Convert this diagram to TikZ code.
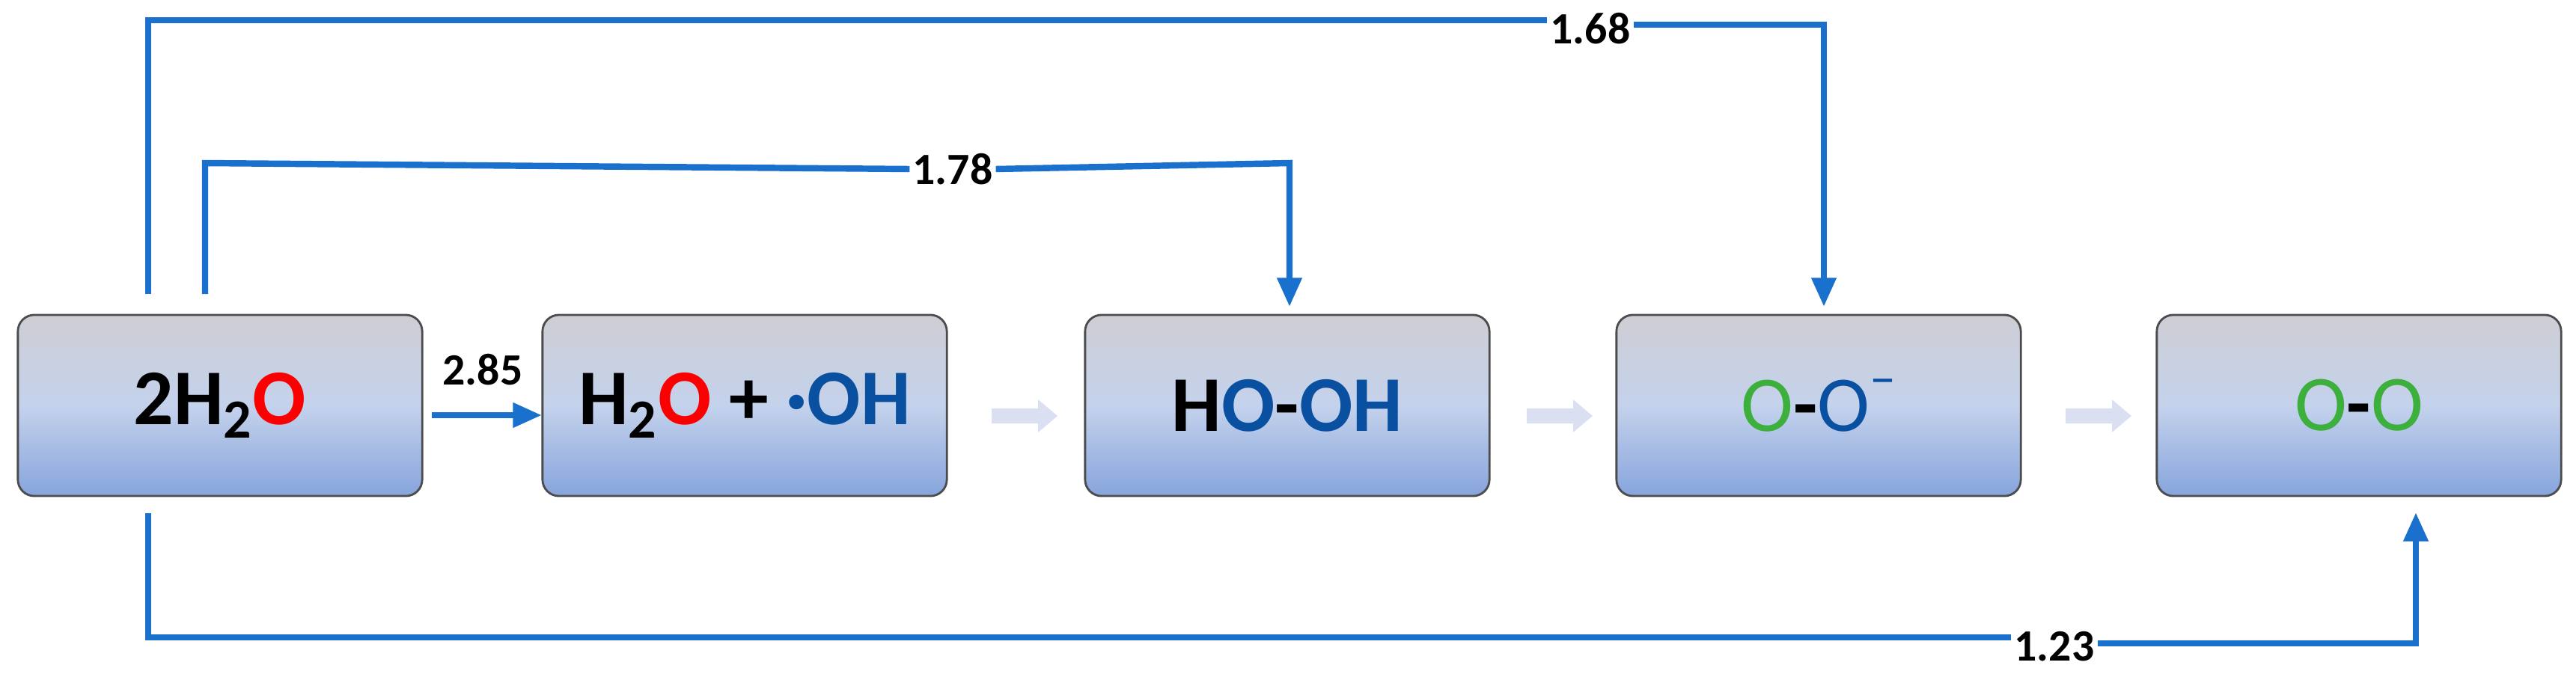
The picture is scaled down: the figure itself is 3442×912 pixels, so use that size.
\documentclass[tikz,border=0pt]{standalone}
\usepackage{fontspec}
\setmainfont{Carlito}
\usetikzlibrary{arrows.meta}
\definecolor{ln}{RGB}{25,112,205}
\definecolor{redO}{RGB}{250,0,0}
\definecolor{bluO}{RGB}{10,80,160}
\definecolor{grnO}{RGB}{60,175,60}
\definecolor{topc}{RGB}{206,206,212}
\definecolor{midc}{RGB}{196,210,236}
\definecolor{botc}{RGB}{134,164,220}
\definecolor{light}{RGB}{218,224,242}
\tikzset{
 box/.style={draw=black!70,line width=0.8pt,rounded corners=0.22cm,minimum width=5.4cm,minimum height=2.42cm,top color=topc,bottom color=botc,middle color=midc,font=\fontsize{30}{36}\selectfont\bfseries,inner sep=0pt},
 conn/.style={ln,line width=2.4pt,-{Triangle[length=11pt,width=9pt]}},
 seg/.style={ln,line width=2.4pt},
 lab/.style={font=\fontsize{17}{20}\selectfont\bfseries,inner sep=1pt},
 larrow/.style={fill=light,draw=none}
}
\begin{document}
\begin{tikzpicture}[x=0.01cm,y=-0.01cm]
\useasboundingbox (0,0) rectangle (3442,912);
\node[box] (b1) at (294,542) {2H\textsubscript{2}\textcolor{redO}{O}};
\node[box] (b2) at (995,542) {H\textsubscript{2}\textcolor{redO}{O} + \textcolor{bluO}{·OH}};
\node[box] (b3) at (1720,542) {H\textcolor{bluO}{O}-\textcolor{bluO}{OH}};
\node[box] (b4) at (2430,542) {\textcolor{grnO}{\mdseries O}-\textcolor{bluO}{\mdseries O}\raisebox{0.45em}{\textcolor{bluO}{\mdseries\fontsize{20}{20}\selectfont –}}};
\node[box] (b5) at (3152,542) {\textcolor{grnO}{\mdseries O}-\textcolor{grnO}{\mdseries O}};
% light arrows
\foreach \x in {1325,2040,2760}{
 \fill[light] (\x,546) -- (\x+62,546) -- (\x+62,534) -- (\x+88,556) -- (\x+62,578) -- (\x+62,566) -- (\x,566) -- cycle;
}
% 2.85
\coordinate (s285) at (577,555);
\coordinate (e285) at (724,555);
\draw[conn] (s285) -- (e285);
\node[lab] (l285) at (645,494) {2.85};
% 1.78
\coordinate (a1) at (274,393);
\coordinate (a2) at (274,218);
\coordinate (a3) at (1723,218);
\coordinate (a4) at (1723,410);
\node[lab] (l178) at (1273,226) {1.78};
\draw[seg] (a1) -- (a2) -- (l178.west);
\draw[conn] (l178.east) -- (a3) -- (a4);
% 1.68
\coordinate (c1) at (198,393);
\coordinate (c2) at (198,27);
\coordinate (c3) at (2437,33);
\coordinate (c4) at (2437,410);
\node[lab] (l168) at (2125,38) {1.68};
\draw[seg] (c1) -- (c2) -- (l168.west |- c2);
\draw[conn] (l168.east |- c3) -- (c3) -- (c4);
% 1.23
\coordinate (d1) at (198,686);
\coordinate (d2) at (198,852);
\coordinate (d3) at (3228,860);
\coordinate (d4) at (3228,685);
\node[lab] (l123) at (2745,864) {1.23};
\draw[seg] (d1) -- (d2) -- (l123.west |- d2);
\draw[conn] (l123.east |- d3) -- (d3) -- (d4);
\end{tikzpicture}
\end{document}
